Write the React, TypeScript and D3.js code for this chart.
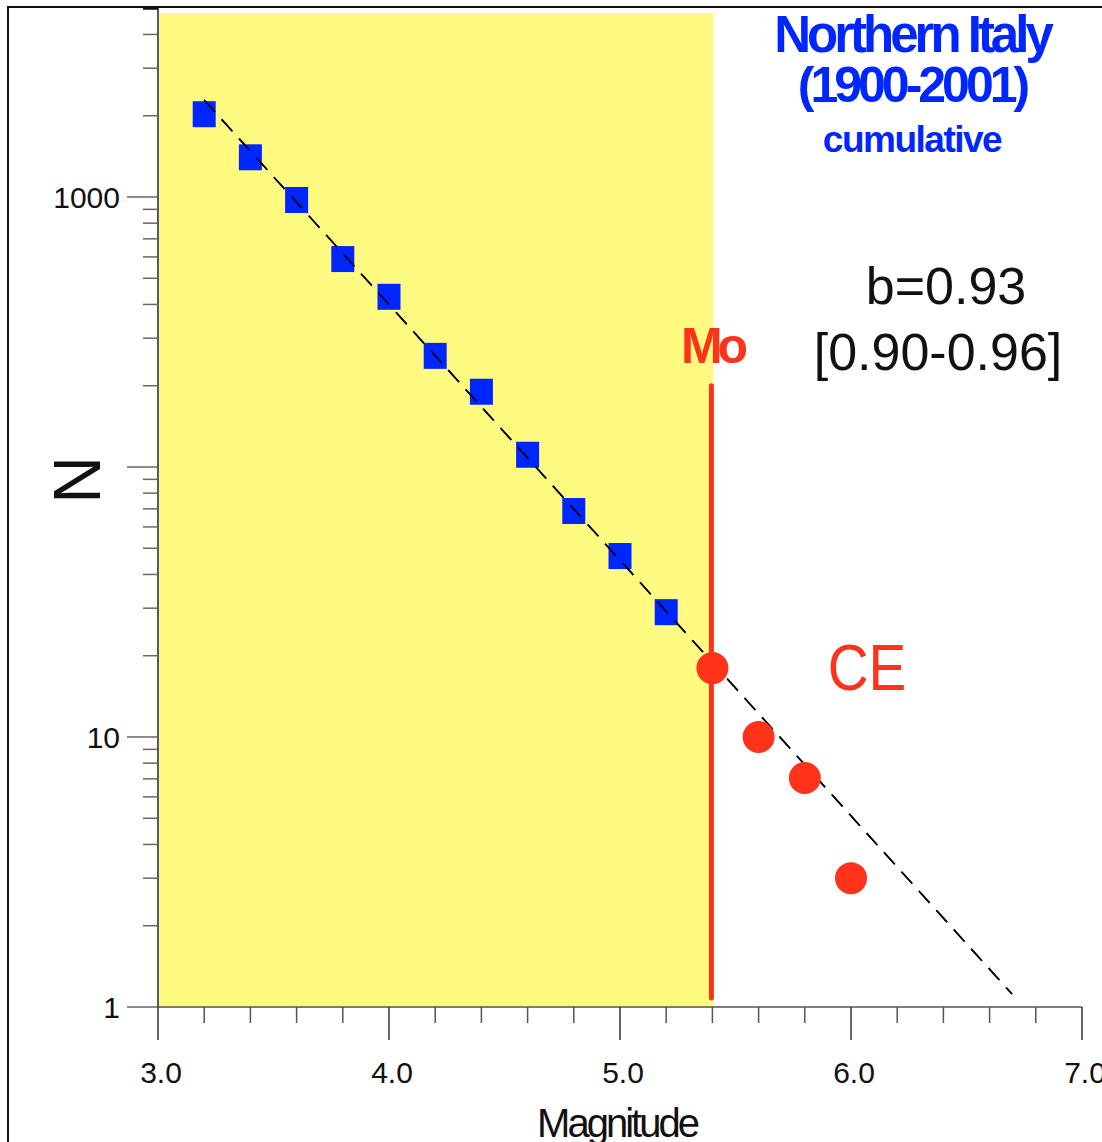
import React from "react";
import * as d3 from "d3";

// ---- data ----
const magnitudes = [3.2, 3.4, 3.6, 3.8, 4.0, 4.2, 4.4, 4.6, 4.8, 5.0, 5.2];
const cumulativeN = [2026, 1403, 975, 589, 427, 258, 190, 111, 68.7, 46.8, 29];
const ceMagnitudes = [5.4, 5.6, 5.8, 6.0];
const ceN = [18, 10, 7.05, 3.0];
const fitLineM = [3.2, 6.697];
const fitLineN = [2286, 1.117];
const moMagnitude = 5.4;
const moLineN = [1.08, 200];
const completeRangeM = [3.0, 5.4];
const completeRangeN = [1, 4800];
const xMajorTicks = [3.0, 4.0, 5.0, 6.0, 7.0];
const xTickLabels = ["3.0", "4.0", "5.0", "6.0", "7.0"];
const yMajorTicks = [1, 10, 100, 1000];
const yLabelTicks = [1, 10, 1000];
const yLabels = ["1", "10", "1000"];
const yTopValue = 5000;
const titleLines = ["Northern Italy", "(1900-2001)", "cumulative"];
const bLines = ["b=0.93", "[0.90-0.96]"];

const FONT = "'Liberation Sans', Arial, Helvetica, sans-serif";
const BLUE = "#0026ff";
const RED = "#ff3319";
const YELLOW = "#fffb80";

export default function App() {
  const W = 1102;
  const H = 1142;
  const x = d3.scaleLinear().domain([3, 7]).range([158, 1082]);
  const y = d3.scaleLog().domain([1, 1000]).range([1007, 197]);

  const xMinor = d3.range(3.2, 7.0, 0.2).filter(
    (v) => Math.abs(v - Math.round(v)) > 1e-6
  );
  const yMinor: number[] = [];
  [1, 10, 100, 1000].forEach((dec) => {
    for (let k = 2; k <= 9; k++) {
      const v = dec * k;
      if (v <= yTopValue) yMinor.push(v);
    }
  });

  const line = d3
    .line<[number, number]>()
    .x((d) => x(d[0]))
    .y((d) => y(d[1]));
  const fitPts: [number, number][] = fitLineM.map((m, i) => [m, fitLineN[i]]);

  return (
    <svg
      width={W}
      height={H}
      style={{ position: "absolute", left: 0, top: 0, background: "#fff" }}
      fontFamily={FONT}
    >
      {/* outer frame */}
      <rect x={8} y={7} width={1300} height={1300} fill="none" stroke="#111" strokeWidth={2} />

      {/* completeness region */}
      <rect
        x={x(completeRangeM[0]) + 1}
        y={y(completeRangeN[1])}
        width={x(completeRangeM[1]) - x(completeRangeM[0])}
        height={y(completeRangeN[0]) - y(completeRangeN[1]) + 1}
        fill={YELLOW}
      />

      {/* y axis */}
      <line x1={x(3)} x2={x(3)} y1={y(yTopValue)} y2={y(1)} stroke="#222" strokeWidth={1.5} />
      {yMinor.map((v) => (
        <line
          key={"ym" + v}
          x1={143}
          x2={x(3)}
          y1={y(v)}
          y2={y(v)}
          stroke={v === yTopValue ? "#111" : "#666"}
          strokeWidth={v === yTopValue ? 3 : 1.5}
        />
      ))}
      {yMajorTicks.map((v) => (
        <line key={"yM" + v} x1={127} x2={x(3)} y1={y(v)} y2={y(v)} stroke="#666" strokeWidth={1.5} />
      ))}
      {yLabelTicks.map((v, i) => (
        <text
          key={"yl" + v}
          x={120}
          y={y(v)}
          dy="0.36em"
          textAnchor="end"
          fontSize={30}
          fill="#111"
        >
          {yLabels[i]}
        </text>
      ))}
      <text
        transform={`translate(${100},${y(100) + 13}) rotate(-90)`}
        textAnchor="middle"
        fontSize={66}
        fill="#111"
      >
        N
      </text>

      {/* x axis */}
      <line x1={x(3)} x2={x(7)} y1={y(1)} y2={y(1)} stroke="#555" strokeWidth={1.5} />
      {xMinor.map((v) => (
        <line key={"xm" + v} x1={x(v)} x2={x(v)} y1={y(1)} y2={1023} stroke="#555" strokeWidth={1.5} />
      ))}
      {xMajorTicks.map((v, i) => (
        <g key={"xM" + v}>
          <line x1={x(v)} x2={x(v)} y1={y(1)} y2={1040} stroke="#333" strokeWidth={1.5} />
          <text x={x(v) + 3} y={1083} textAnchor="middle" fontSize={30} fill="#111">
            {xTickLabels[i]}
          </text>
        </g>
      ))}
      <text x={617} y={1137} textAnchor="middle" fontSize={40} letterSpacing={-3} fill="#111">
        Magnitude
      </text>

      {/* Mo line */}
      <line
        x1={x(moMagnitude) - 1}
        x2={x(moMagnitude) - 1}
        y1={y(moLineN[1])}
        y2={y(moLineN[0])}
        stroke={RED}
        strokeWidth={5}
        strokeLinecap="round"
      />

      {/* fit line */}
      <path d={line(fitPts) || ""} fill="none" stroke="#000" strokeWidth={1.6} strokeDasharray="16,10" />

      {/* blue squares */}
      {magnitudes.map((m, i) => (
        <rect
          key={"sq" + m}
          x={x(m) - 11.5}
          y={y(cumulativeN[i]) - 13}
          width={23}
          height={26}
          fill={BLUE}
        />
      ))}
      {/* dashed line drawn over the squares as in the reference */}
      <path d={line(fitPts) || ""} fill="none" stroke="#000" strokeWidth={1.6} strokeDasharray="16,10" />

      {/* red circles */}
      {ceMagnitudes.map((m, i) => (
        <circle key={"ce" + m} cx={x(m)} cy={y(ceN[i])} r={16} fill={RED} />
      ))}

      {/* texts */}
      <text x={912} y={52} textAnchor="middle" fontSize={51} fontWeight="bold" letterSpacing={-4} fill={BLUE}>
        {titleLines[0]}
      </text>
      <text x={912} y={102} textAnchor="middle" fontSize={50} fontWeight="bold" letterSpacing={-4} fill={BLUE}>
        {titleLines[1]}
      </text>
      <text x={912} y={152} textAnchor="middle" fontSize={37} fontWeight="bold" letterSpacing={-1.5} fill={BLUE}>
        {titleLines[2]}
      </text>
      <text x={946} y={304} textAnchor="middle" fontSize={52} fill="#111">
        {bLines[0]}
      </text>
      <text x={938} y={370} textAnchor="middle" fontSize={52} fill="#111">
        {bLines[1]}
      </text>
      <text x={712} y={363} textAnchor="middle" fontSize={50} fontWeight="bold" letterSpacing={-5} fill={RED}>
        Mo
      </text>
      <text
        transform="translate(867,690) scale(0.87,1)"
        textAnchor="middle"
        fontSize={65}
        fill={RED}
      >
        CE
      </text>
    </svg>
  );
}
